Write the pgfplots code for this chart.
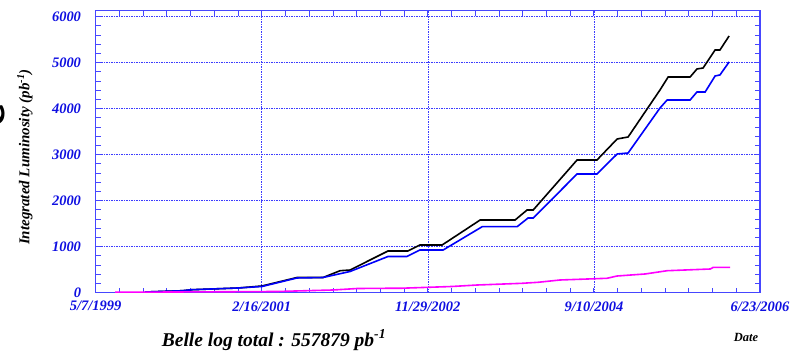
\documentclass[border=0pt]{standalone}
\usepackage{fontspec}
\setmainfont{Liberation Serif}
\usepackage{pgfplots}
\pgfplotsset{compat=1.18}
\definecolor{axisblue}{RGB}{70,70,255}
\definecolor{tickblue}{RGB}{15,15,225}
\definecolor{gridblue}{RGB}{60,60,255}
\definecolor{lumblue}{RGB}{0,0,250}
\definecolor{lummag}{RGB}{255,0,255}
\begin{document}
\begin{tikzpicture}
\useasboundingbox (0,0) rectangle (793pt,355pt);
% x = days since 5/7/1999
\begin{axis}[
  at={(95.7pt,62.3pt)}, anchor=south west,
  width=664.3pt, height=282pt, scale only axis,
  xmin=0, xmax=2604, ymin=0, ymax=6130,
  xtick={0,651,1302,1953,2604},
  xticklabels={5/7/1999,2/16/2001,11/29/2002,9/10/2004,6/23/2006},
  ytick={0,1000,2000,3000,4000,5000,6000},
  minor x tick num=6, minor y tick num=4,
  tick align=inside, xtick pos=both, ytick pos=both,
  xticklabel pos=bottom, yticklabel pos=left,
  major tick length=5pt, minor tick length=5pt,
  tick style={draw=axisblue, line width=0.9pt},
  axis line style={draw=axisblue, line width=1.2pt},
  grid=major,
  major grid style={draw=gridblue, line width=0.7pt, dash pattern=on 2pt off 1.2pt on 0.6pt off 1.2pt},
  scaled ticks=false,
  /pgf/number format/1000 sep={},
  /pgf/number format/assume math mode=true,
  tick label style={font=\fontsize{14.5}{15}\selectfont\bfseries\itshape, text=tickblue, inner sep=0pt},
  yticklabel style={xshift=-14.5pt},
  xticklabel style={yshift=-8.5pt},
]
\addplot[black, line width=1.6pt] coordinates {
  (193,15) (339,43) (378,65) (558,102) (652,146) (789,330) (891,330)
  (958,478) (997,493) (1146,907) (1224,907) (1271,1037) (1358,1037)
  (1507,1580) (1644,1580) (1691,1798) (1715,1798) (1887,2885) (1965,2885)
  (2044,3341) (2087,3385) (2212,4407) (2244,4689) (2330,4689) (2357,4863)
  (2381,4885) (2428,5276) (2447,5276) (2483,5581)
};
\addplot[lumblue, line width=1.6pt] coordinates {
  (193,15) (339,43) (378,65) (558,102) (652,135) (789,320) (891,330)
  (997,461) (1146,787) (1220,787) (1271,928) (1362,928) (1515,1435)
  (1652,1435) (1695,1624) (1715,1624) (1887,2580) (1965,2580) (2044,3015)
  (2087,3037) (2212,4015) (2240,4189) (2330,4189) (2357,4363) (2389,4363)
  (2428,4711) (2447,4733) (2483,5016)
};
\addplot[lummag, line width=1.6pt] coordinates {
  (76,9) (711,26) (931,59) (1025,91) (1146,96) (1193,96) (1397,135)
  (1495,167) (1671,204) (1734,226) (1820,276) (2004,313) (2044,363)
  (2154,407) (2240,478) (2409,515) (2421,552) (2487,552)
};
\end{axis}
\node[rotate=90, font=\fontsize{15}{15}\selectfont\bfseries\itshape] at (25pt,198pt)
  {Integrated Luminosity (pb\textsuperscript{-1})};
\node[font=\fontsize{19.5}{20}\selectfont\bfseries\itshape] at (274pt,15pt)
  {Belle log total : 557879 pb\textsuperscript{-1}};
\node[font=\fontsize{12.5}{12.5}\selectfont\bfseries\itshape] at (746pt,18pt) {Date};
\node[rotate=90, font=\fontsize{44}{44}\selectfont\sffamily\bfseries, inner sep=0pt] at (-6pt,240pt) {e};
\end{tikzpicture}
\end{document}
